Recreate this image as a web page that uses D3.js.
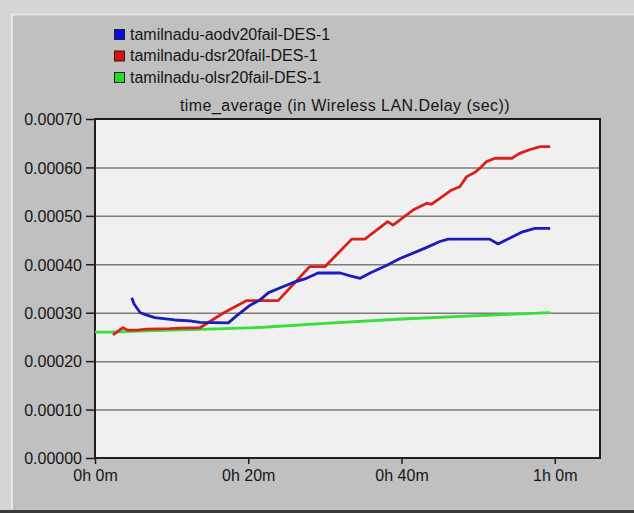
<!DOCTYPE html>
<html>
<head>
<meta charset="utf-8">
<script src="https://cdn.jsdelivr.net/npm/d3@7"></script>
<style>
  html, body { margin: 0; padding: 0; background: #c0c0c0; }
  svg { display: block; }
  text { font-family: "Liberation Sans", Arial, sans-serif; fill: #161616; }
</style>
</head>
<body>
<script>
// Simulation time (minutes) and time-averaged WLAN delay (seconds) per scenario
const seriesNames = [
  "tamilnadu-aodv20fail-DES-1",
  "tamilnadu-dsr20fail-DES-1",
  "tamilnadu-olsr20fail-DES-1"
];
const seriesColors = ["#1c1cb8", "#d8201c", "#3ade3a"];
const legendFills = ["#0a0ae6", "#dc1010", "#22dd22"];

const aodvTime = [4.8, 5.1, 5.9, 6.8, 7.8, 10.4, 12.4, 13.7, 17.4, 18.5, 20.3, 21.5, 22.6, 24.1, 25.8, 27.6, 29.1, 32.0, 33.3, 34.6, 35.9, 38.1, 39.8, 41.5, 43.3, 45.0, 46.1, 51.5, 52.6, 54.1, 55.8, 57.4, 59.4];
const aodvDelay = [0.000331, 0.000318, 0.000300, 0.000295, 0.000290, 0.000285, 0.000283, 0.000280, 0.000279, 0.000294, 0.000316, 0.000326, 0.000341, 0.000351, 0.000362, 0.000371, 0.000382, 0.000382, 0.000376, 0.000371, 0.000382, 0.000398, 0.000412, 0.000423, 0.000435, 0.000447, 0.000452, 0.000452, 0.000442, 0.000454, 0.000467, 0.000474, 0.000474];

const dsrTime = [2.35, 3.0, 3.65, 4.3, 5.5, 6.8, 9.8, 11.1, 13.7, 16.7, 19.8, 22.8, 23.9, 28.0, 30.0, 33.5, 35.2, 38.2, 38.9, 41.5, 43.3, 43.9, 45.0, 46.5, 47.6, 48.5, 49.6, 50.2, 51.1, 52.2, 54.4, 55.4, 56.8, 58.1, 59.4];
const dsrDelay = [0.000254, 0.000262, 0.000269, 0.000264, 0.000264, 0.000266, 0.000267, 0.000268, 0.000269, 0.000299, 0.000325, 0.000325, 0.000325, 0.000395, 0.000395, 0.000452, 0.000452, 0.000488, 0.000481, 0.000512, 0.000526, 0.000524, 0.000536, 0.000553, 0.000560, 0.000581, 0.000590, 0.000598, 0.000612, 0.000619, 0.000619, 0.000629, 0.000637, 0.000643, 0.000643];

const olsrTime = [0, 2, 10, 17, 22, 30, 40, 50, 59.4];
const olsrDelay = [0.000260, 0.000260, 0.000264, 0.000267, 0.000270, 0.000278, 0.000287, 0.000294, 0.000300];

const xTicks = [0, 20, 40, 60];
const xTickLabels = ["0h 0m", "0h 20m", "0h 40m", "1h 0m"];
const yTicks = [0, 0.0001, 0.0002, 0.0003, 0.0004, 0.0005, 0.0006, 0.0007];
const chartTitle = "time_average (in Wireless LAN.Delay (sec))";

const W = 634, H = 513;
const plot = { left: 95, right: 600, top: 119, bottom: 458 };

const svg = d3.select("body").append("svg").attr("width", W).attr("height", H);

// Window frame: light outer strip, raised grey panel with dark bottom edge
svg.append("rect").attr("width", W).attr("height", H).attr("fill", "#d6d6d6");
svg.append("rect").attr("x", 13).attr("y", 14).attr("width", W - 13).attr("height", H - 14).attr("fill", "#c0c0c0");
svg.append("line").attr("x1", 13).attr("x2", W).attr("y1", 14.5).attr("y2", 14.5).attr("stroke", "#e6e6e6").attr("stroke-width", 2);
svg.append("line").attr("x1", 12).attr("x2", 12).attr("y1", 14).attr("y2", 510).attr("stroke", "#e6e6e6").attr("stroke-width", 2);
svg.append("rect").attr("x", 0).attr("y", 510).attr("width", W).attr("height", 3).attr("fill", "#3a3a3a");

const x = d3.scaleLinear().domain([0, 65.9]).range([plot.left, plot.right]);
const y = d3.scaleLinear().domain([0, 0.0007]).range([plot.bottom, plot.top]);

// Plot area
svg.append("rect")
  .attr("x", plot.left).attr("y", plot.top)
  .attr("width", plot.right - plot.left).attr("height", plot.bottom - plot.top)
  .attr("fill", "#f0f0f0");

// Horizontal grid lines
const grid = svg.append("g")
  .attr("transform", `translate(${plot.left},0)`)
  .call(d3.axisLeft(y).tickValues(yTicks.slice(1, -1)).tickSize(-(plot.right - plot.left)).tickFormat(""));
grid.select(".domain").remove();
grid.selectAll("line").attr("stroke", "#7c7c7c").attr("stroke-width", 1.5);

// Frame of the plot area
svg.append("rect")
  .attr("x", plot.left).attr("y", plot.top)
  .attr("width", plot.right - plot.left).attr("height", plot.bottom - plot.top)
  .attr("fill", "none").attr("stroke", "#1e1e1e").attr("stroke-width", 2);

// Y axis
const yAxis = svg.append("g")
  .attr("transform", `translate(${plot.left},0)`)
  .call(d3.axisLeft(y).tickValues(yTicks).tickSize(9).tickPadding(4).tickFormat(d3.format(".5f")));
yAxis.select(".domain").remove();
yAxis.selectAll("line").attr("stroke", "#1e1e1e").attr("stroke-width", 1.5);
yAxis.selectAll("text").attr("font-size", 16).attr("dy", "0.36em").style("fill", "#161616");

// X axis
const xAxis = svg.append("g")
  .attr("transform", `translate(0,${plot.bottom})`)
  .call(d3.axisBottom(x).tickValues(xTicks).tickSize(6).tickPadding(6)
    .tickFormat((d, i) => xTickLabels[i]));
xAxis.select(".domain").remove();
xAxis.selectAll("line").attr("stroke", "#1e1e1e").attr("stroke-width", 1.5);
xAxis.selectAll("text").attr("font-size", 16).style("fill", "#161616");

// Chart title above the plot
svg.append("text")
  .attr("x", 345).attr("y", 111)
  .attr("text-anchor", "middle")
  .attr("font-size", 16)
  .attr("letter-spacing", 0.45)
  .text(chartTitle);

// Series lines
const series = [
  { t: aodvTime, v: aodvDelay },
  { t: dsrTime, v: dsrDelay },
  { t: olsrTime, v: olsrDelay }
];
const line = d3.line().x(d => x(d[0])).y(d => y(d[1]));
// draw green first, then red, then blue on top
[2, 1, 0].forEach(i => {
  const pts = series[i].t.map((t, k) => [t, series[i].v[k]]);
  svg.append("path")
    .attr("d", line(pts))
    .attr("fill", "none")
    .attr("stroke", seriesColors[i])
    .attr("stroke-width", 2.8)
    .attr("stroke-linejoin", "round")
    .attr("stroke-linecap", "butt");
});

// Legend
const legendTops = [29, 50.5, 72];
const legend = svg.append("g");
seriesNames.forEach((name, i) => {
  legend.append("rect")
    .attr("x", 114.5).attr("y", legendTops[i] + 0.5)
    .attr("width", 10).attr("height", 10)
    .attr("fill", legendFills[i]).attr("stroke", "#202020").attr("stroke-width", 1);
  legend.append("text")
    .attr("x", 130).attr("y", legendTops[i] + 10.5)
    .attr("font-size", 16)
    .text(name);
});
</script>
</body>
</html>
